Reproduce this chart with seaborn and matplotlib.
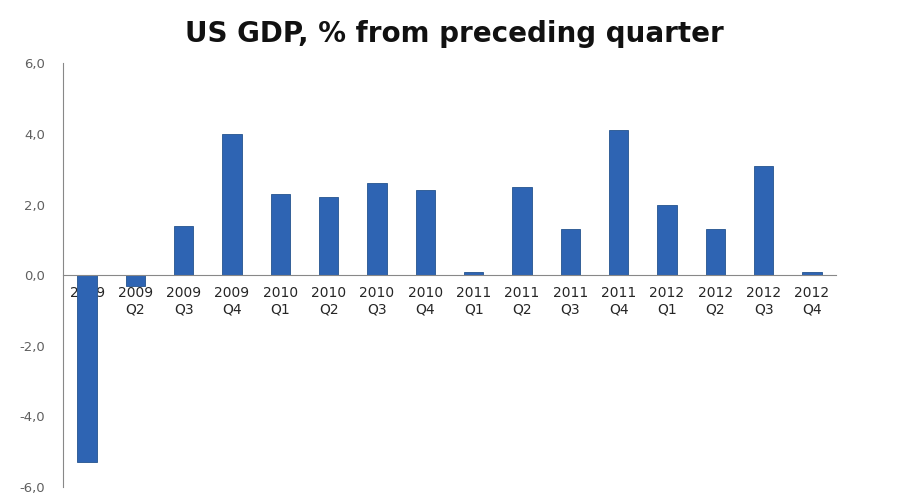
import matplotlib
matplotlib.use("Agg")
import matplotlib.pyplot as plt
import seaborn as sns
import numpy as np
import pandas as pd

quarters = ["2009\nQ1", "2009\nQ2", "2009\nQ3", "2009\nQ4",
            "2010\nQ1", "2010\nQ2", "2010\nQ3", "2010\nQ4",
            "2011\nQ1", "2011\nQ2", "2011\nQ3", "2011\nQ4",
            "2012\nQ1", "2012\nQ2", "2012\nQ3", "2012\nQ4"]
gdp_change = [-5.3, -0.3, 1.4, 4.0, 2.3, 2.2, 2.6, 2.4,
              0.1, 2.5, 1.3, 4.1, 2.0, 1.3, 3.1, 0.1]
y_ticks = [-6, -4, -2, 0, 2, 4, 6]
y_tick_labels = ["-6,0", "-4,0", "-2,0", "0,0", "2,0", "4,0", "6,0"]
title = "US GDP, % from preceding quarter"

df = pd.DataFrame({"quarter": quarters, "value": gdp_change})

sns.set_style("white")
plt.rcParams['font.family'] = ['DejaVu Sans']
plt.rcParams['font.sans-serif'] = ['DejaVu Sans']

fig = plt.figure(figsize=(8.99, 4.98), dpi=100)
ax = fig.add_axes([0.07, 0.022, 0.86, 0.851])

sns.barplot(data=df, x="quarter", y="value", color="#2e64b3", width=0.4,
            saturation=1, ax=ax, edgecolor="#24538f", linewidth=0.6)

ax.set_ylim(-6, 6)
ax.set_xlim(-0.5, len(quarters) - 0.5)
ax.set_yticks(y_ticks)
ax.set_yticklabels(y_tick_labels, color="#606060", fontsize=9.5)
ax.set_xticks(range(len(quarters)))
ax.set_xticklabels(quarters, color="#4a4a4a", fontsize=10, linespacing=1.9)
ax.set_xticks(np.arange(-0.5, len(quarters)), minor=True)
ax.tick_params(axis="x", which="major", length=0, pad=8)
ax.tick_params(axis="x", which="minor", length=5, direction="inout", color="#888888")
ax.tick_params(axis="y", length=4, direction="out", color="#888888", pad=9)
ax.set_xlabel("")
ax.set_ylabel("")

for s in ["top", "right"]:
    ax.spines[s].set_visible(False)
ax.spines["bottom"].set_position(("data", 0))
ax.spines["bottom"].set_color("#888888")
ax.spines["left"].set_color("#888888")

fig.suptitle(title, x=0.505, y=0.96, fontsize=20, fontweight="bold",
             fontfamily="DejaVu Sans", color="#111111")

fig.savefig("out.png", dpi=100)
